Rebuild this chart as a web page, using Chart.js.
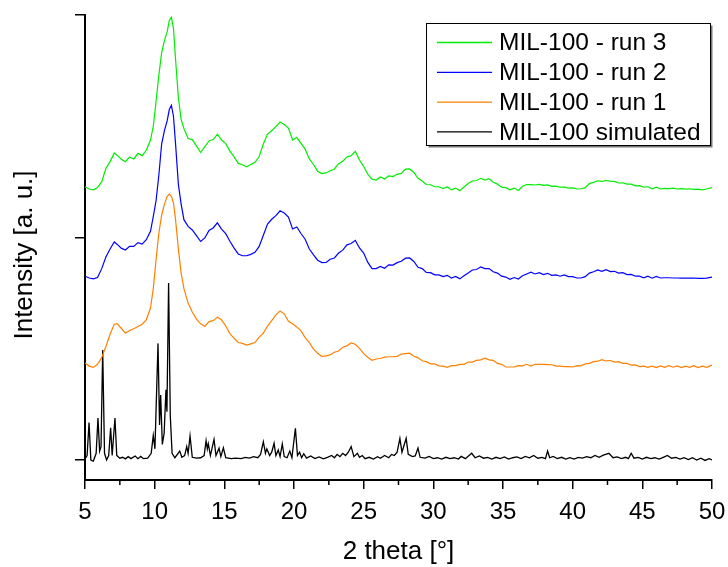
<!DOCTYPE html>
<html>
<head>
<meta charset="utf-8">
<title>MIL-100 XRD</title>
<script src="https://cdn.jsdelivr.net/npm/chart.js@4.4.1/dist/chart.umd.min.js"></script>
<style>
  html, body { margin: 0; padding: 0; background: #fff; }
  canvas { display: block; }
</style>
</head>
<body>
<canvas id="xrdChart" width="728" height="567"></canvas>
<script>
// ===============================
// Data
// ===============================
const seriesLabels = ["MIL-100 - run 3", "MIL-100 - run 2", "MIL-100 - run 1", "MIL-100 simulated"];
const seriesColors = ["#00ee00", "#0000ff", "#ff8000", "#000000"];

const xTicks = [5, 10, 15, 20, 25, 30, 35, 40, 45, 50];
const xMinorTicks = [7.5, 12.5, 17.5, 22.5, 27.5, 32.5, 37.5, 42.5, 47.5];
const yTicks = [0, 1, 2];

// shared 2-theta grid of the three measured runs
const runX = [
    5.0, 5.3, 5.6, 5.9, 6.2, 6.5, 6.8, 7.1, 7.3, 7.6,
    7.9, 8.2, 8.5, 8.8, 9.1, 9.4, 9.7, 9.9, 10.1, 10.3,
    10.5, 10.7, 10.9, 11.05, 11.2, 11.35, 11.5, 11.7, 11.9, 12.1,
    12.4, 12.7, 13.0, 13.3, 13.6, 13.9, 14.2, 14.5, 14.8, 15.1,
    15.4, 15.7, 16.0, 16.3, 16.6, 16.9, 17.2, 17.5, 17.8, 18.1,
    18.4, 18.7, 19.0, 19.3, 19.6, 19.9, 20.2, 20.5, 20.8, 21.1,
    21.4, 21.7, 22.0, 22.3, 22.6, 22.9, 23.2, 23.5, 23.8, 24.1,
    24.4, 24.7, 25.0, 25.3, 25.6, 25.9, 26.2, 26.5, 26.8, 27.1,
    27.4, 27.7, 28.0, 28.3, 28.6, 28.9, 29.2, 29.5, 29.8, 30.1,
    30.4, 30.7, 31.0, 31.3, 31.6, 31.9, 32.2, 32.5, 32.8, 33.1,
    33.4, 33.7, 34.0, 34.3, 34.6, 34.9, 35.2, 35.5, 35.8, 36.1,
    36.4, 36.7, 37.0, 37.3, 37.6, 37.9, 38.2, 38.5, 38.8, 39.1,
    39.4, 39.7, 40.0, 40.3, 40.6, 40.9, 41.2, 41.5, 41.8, 42.1,
    42.4, 42.7, 43.0, 43.3, 43.6, 43.9, 44.2, 44.5, 44.8, 45.1,
    45.4, 45.7, 46.0, 46.3, 46.6, 46.9, 47.2, 47.5, 47.8, 48.1,
    48.4, 48.7, 49.0, 49.3, 49.6, 50.0
];

const run3 = [
    1.228, 1.218, 1.214, 1.224, 1.251, 1.310, 1.341, 1.380, 1.370, 1.352,
    1.341, 1.362, 1.353, 1.378, 1.368, 1.392, 1.438, 1.500, 1.610, 1.730,
    1.830, 1.885, 1.925, 1.975, 1.990, 1.940, 1.800, 1.630, 1.530, 1.490,
    1.445, 1.440, 1.412, 1.382, 1.408, 1.434, 1.440, 1.464, 1.438, 1.422,
    1.388, 1.362, 1.333, 1.327, 1.318, 1.328, 1.338, 1.364, 1.420, 1.465,
    1.480, 1.498, 1.519, 1.508, 1.492, 1.438, 1.450, 1.423, 1.397, 1.353,
    1.328, 1.298, 1.287, 1.290, 1.300, 1.308, 1.332, 1.343, 1.362, 1.368,
    1.387, 1.348, 1.320, 1.283, 1.262, 1.258, 1.272, 1.263, 1.277, 1.274,
    1.284, 1.288, 1.307, 1.308, 1.292, 1.266, 1.254, 1.238, 1.237, 1.228,
    1.228, 1.220, 1.227, 1.214, 1.222, 1.210, 1.227, 1.243, 1.254, 1.256,
    1.266, 1.258, 1.264, 1.248, 1.240, 1.226, 1.224, 1.214, 1.222, 1.211,
    1.230, 1.238, 1.238, 1.236, 1.239, 1.234, 1.236, 1.230, 1.231, 1.226,
    1.226, 1.222, 1.223, 1.218, 1.219, 1.224, 1.242, 1.248, 1.255, 1.252,
    1.256, 1.253, 1.252, 1.245, 1.246, 1.240, 1.240, 1.232, 1.233, 1.226,
    1.228, 1.219, 1.226, 1.218, 1.221, 1.220, 1.222, 1.218, 1.220, 1.217,
    1.219, 1.216, 1.217, 1.214, 1.218, 1.224
];

const run2 = [
    0.826, 0.818, 0.814, 0.820, 0.860, 0.912, 0.948, 0.980, 0.970, 0.952,
    0.944, 0.960, 0.960, 0.977, 0.970, 0.990, 1.028, 1.094, 1.165, 1.280,
    1.420, 1.480, 1.525, 1.575, 1.594, 1.545, 1.420, 1.240, 1.150, 1.080,
    1.050, 1.034, 1.008, 0.982, 0.998, 1.032, 1.043, 1.066, 1.038, 1.017,
    0.983, 0.952, 0.926, 0.918, 0.918, 0.924, 0.933, 0.960, 1.010, 1.060,
    1.082, 1.098, 1.120, 1.110, 1.092, 1.038, 1.047, 1.018, 0.992, 0.948,
    0.922, 0.898, 0.887, 0.888, 0.902, 0.908, 0.930, 0.943, 0.967, 0.973,
    0.987, 0.953, 0.930, 0.888, 0.860, 0.860, 0.870, 0.862, 0.877, 0.876,
    0.887, 0.893, 0.907, 0.908, 0.892, 0.866, 0.860, 0.843, 0.842, 0.832,
    0.832, 0.824, 0.830, 0.818, 0.825, 0.814, 0.828, 0.840, 0.854, 0.856,
    0.868, 0.860, 0.860, 0.846, 0.840, 0.826, 0.822, 0.812, 0.820, 0.813,
    0.828, 0.836, 0.844, 0.836, 0.842, 0.833, 0.839, 0.830, 0.832, 0.826,
    0.832, 0.824, 0.824, 0.818, 0.818, 0.824, 0.840, 0.846, 0.854, 0.848,
    0.855, 0.847, 0.848, 0.840, 0.842, 0.833, 0.834, 0.826, 0.826, 0.819,
    0.826, 0.817, 0.825, 0.818, 0.819, 0.819, 0.818, 0.818, 0.817, 0.817,
    0.817, 0.818, 0.816, 0.816, 0.817, 0.822
];

const run1 = [
    0.436, 0.422, 0.416, 0.430, 0.460, 0.510, 0.565, 0.610, 0.613, 0.592,
    0.570, 0.582, 0.590, 0.600, 0.610, 0.630, 0.683, 0.770, 0.900, 1.020,
    1.100, 1.150, 1.185, 1.195, 1.185, 1.155, 1.080, 0.950, 0.840, 0.770,
    0.705, 0.665, 0.633, 0.612, 0.600, 0.622, 0.626, 0.642, 0.630, 0.602,
    0.568, 0.547, 0.528, 0.524, 0.516, 0.522, 0.528, 0.552, 0.570, 0.602,
    0.626, 0.652, 0.670, 0.657, 0.623, 0.612, 0.598, 0.580, 0.550, 0.527,
    0.498, 0.480, 0.466, 0.468, 0.472, 0.484, 0.490, 0.507, 0.513, 0.526,
    0.520, 0.502, 0.478, 0.462, 0.448, 0.454, 0.456, 0.462, 0.464, 0.464,
    0.466, 0.476, 0.478, 0.480, 0.466, 0.459, 0.446, 0.442, 0.432, 0.432,
    0.423, 0.422, 0.416, 0.424, 0.424, 0.430, 0.430, 0.440, 0.440, 0.448,
    0.450, 0.458, 0.450, 0.448, 0.434, 0.430, 0.418, 0.418, 0.418, 0.424,
    0.423, 0.430, 0.422, 0.430, 0.430, 0.430, 0.429, 0.428, 0.422, 0.422,
    0.420, 0.420, 0.418, 0.424, 0.423, 0.432, 0.434, 0.442, 0.444, 0.451,
    0.445, 0.447, 0.440, 0.442, 0.434, 0.434, 0.426, 0.427, 0.420, 0.422,
    0.416, 0.422, 0.415, 0.423, 0.416, 0.424, 0.417, 0.423, 0.415, 0.422,
    0.416, 0.424, 0.415, 0.422, 0.416, 0.427
];

// simulated pattern: sharp reflections
const simX = [
    5.0, 5.15, 5.29, 5.42, 5.6, 5.8, 5.93, 6.05, 6.15, 6.27,
    6.4, 6.55, 6.7, 6.84, 6.95, 7.15, 7.28, 7.5, 7.7, 7.9,
    8.1, 8.3, 8.6, 8.8, 9.0, 9.2, 9.5, 9.75, 9.9, 10.02,
    10.24, 10.35, 10.43, 10.55, 10.68, 10.81, 10.88, 11.0, 11.12, 11.25,
    11.45, 11.8, 11.95, 12.15, 12.3, 12.4, 12.54, 12.7, 13.0, 13.3,
    13.55, 13.69, 13.78, 13.85, 14.0, 14.26, 14.4, 14.62, 14.75, 14.93,
    15.1, 15.5, 15.8, 16.2, 16.5, 16.8, 17.1, 17.4, 17.6, 17.8,
    17.95, 18.05, 18.25, 18.4, 18.57, 18.7, 18.87, 19.0, 19.16, 19.3,
    19.5, 19.7, 19.85, 20.1, 20.25, 20.4, 20.55, 20.7, 20.9, 21.2,
    21.5, 21.8, 22.1, 22.4, 22.7, 22.9, 23.1, 23.3, 23.5, 23.7,
    23.9, 24.1, 24.3, 24.55, 24.7, 24.9, 25.1, 25.4, 25.7, 26.0,
    26.2, 26.5, 26.8, 27.0, 27.2, 27.4, 27.6, 27.75, 28.05, 28.2,
    28.5, 28.7, 28.9, 29.05, 29.4, 29.7, 30.0, 30.3, 30.6, 30.9,
    31.2, 31.5, 31.8, 32.0, 32.3, 32.75, 33.0, 33.3, 33.6, 33.9,
    34.2, 34.5, 34.8, 35.1, 35.4, 35.7, 36.0, 36.3, 36.6, 36.9,
    37.2, 37.5, 37.8, 38.05, 38.2, 38.35, 38.6, 38.9, 39.2, 39.5,
    39.8, 40.1, 40.4, 40.7, 41.0, 41.3, 41.6, 41.9, 42.2, 42.6,
    42.9, 43.2, 43.5, 43.8, 44.0, 44.2, 44.4, 44.7, 45.0, 45.3,
    45.6, 45.9, 46.2, 46.5, 46.8, 47.1, 47.4, 47.7, 48.0, 48.3,
    48.6, 48.9, 49.2, 49.5, 49.8, 50.0
];

const simY = [
    0.005, 0.020, 0.168, 0.000, -0.005, 0.030, 0.189, 0.040, 0.060, 0.494,
    0.030, 0.000, 0.020, 0.145, 0.020, 0.189, 0.020, 0.008, 0.012, 0.005,
    0.015, 0.006, 0.018, 0.006, 0.016, 0.006, 0.008, 0.030, 0.110, 0.050,
    0.524, 0.157, 0.292, 0.070, 0.120, 0.315, 0.217, 0.795, 0.200, 0.030,
    0.010, 0.040, 0.012, 0.020, 0.060, 0.030, 0.108, 0.012, 0.008, 0.010,
    0.020, 0.087, 0.050, 0.073, 0.020, 0.093, 0.020, 0.053, 0.015, 0.055,
    0.010, 0.006, 0.008, 0.006, 0.012, 0.008, 0.015, 0.010, 0.025, 0.082,
    0.030, 0.050, 0.020, 0.035, 0.075, 0.020, 0.045, 0.015, 0.072, 0.015,
    0.010, 0.040, 0.010, 0.142, 0.020, 0.035, 0.010, 0.028, 0.008, 0.018,
    0.006, 0.014, 0.005, 0.012, 0.020, 0.010, 0.025, 0.015, 0.030, 0.020,
    0.035, 0.060, 0.015, 0.030, 0.012, 0.020, 0.006, 0.012, 0.004, 0.015,
    0.008, 0.020, 0.010, 0.025, 0.020, 0.035, 0.097, 0.035, 0.097, 0.025,
    0.015, 0.018, 0.053, 0.012, 0.008, 0.016, 0.006, 0.010, 0.004, 0.012,
    0.006, 0.010, 0.004, 0.016, 0.006, 0.030, 0.010, 0.018, 0.008, 0.012,
    0.004, 0.012, 0.006, 0.014, 0.004, 0.010, 0.014, 0.006, 0.016, 0.010,
    0.020, 0.008, 0.012, 0.006, 0.040, 0.010, 0.016, 0.006, 0.012, 0.004,
    0.010, 0.004, 0.012, 0.008, 0.015, 0.010, 0.020, 0.012, 0.022, 0.030,
    0.010, 0.014, 0.006, 0.012, 0.006, 0.030, 0.008, 0.012, 0.004, 0.012,
    0.006, 0.010, 0.004, 0.012, 0.020, 0.008, 0.012, 0.004, 0.010, 0.002,
    0.010, 0.000, 0.008, -0.002, 0.006, 0.000
];

const FONT = "'Liberation Sans', Arial, sans-serif";
const yTitle = "Intensity [a. u.]";

function toPoints(xs, ys) {
    return xs.map((x, i) => ({ x: x, y: ys[i] }));
}

// ===============================
// Minor ticks on the 2 theta axis
// ===============================
const minorTicks = {
    id: "minorTicks",
    afterDraw(chart) {
        const ctx = chart.ctx;
        const xs = chart.scales.x;
        ctx.save();
        ctx.strokeStyle = "#000";
        ctx.lineWidth = 1.5;
        xMinorTicks.forEach(v => {
            const px = xs.getPixelForValue(v);
            ctx.beginPath();
            ctx.moveTo(px, xs.top);
            ctx.lineTo(px, xs.top + 5);
            ctx.stroke();
        });
        ctx.restore();
    }
};

// ===============================
// Rotated y title (sits a bit below the axis centre)
// ===============================
const yTitlePlugin = {
    id: "yTitlePlugin",
    afterDraw(chart) {
        const ctx = chart.ctx;
        ctx.save();
        ctx.translate(25, 255);
        ctx.rotate(-Math.PI / 2);
        ctx.font = "26px " + FONT;
        ctx.fillStyle = "#000";
        ctx.textAlign = "center";
        ctx.textBaseline = "middle";
        ctx.fillText(yTitle, 0, 0);
        ctx.restore();
    }
};

// ===============================
// Boxed legend in the top right
// ===============================
const legendBox = {
    id: "legendBox",
    afterDraw(chart) {
        const ctx = chart.ctx;
        const left = 426.5, top = 23.5, w = 284, h = 122;
        ctx.save();
        ctx.fillStyle = "#777";
        ctx.fillRect(left + 2, top + 2, w, h);
        ctx.fillStyle = "#fff";
        ctx.fillRect(left, top, w, h);
        ctx.strokeStyle = "#000";
        ctx.lineWidth = 1;
        ctx.strokeRect(left, top, w, h);

        ctx.font = "24.5px " + FONT;
        ctx.textBaseline = "middle";
        ctx.textAlign = "left";
        chart.data.datasets.forEach((ds, i) => {
            const y = 42.5 + i * 29.8;
            ctx.strokeStyle = ds.borderColor;
            ctx.lineWidth = 1.3;
            ctx.beginPath();
            ctx.moveTo(437, y);
            ctx.lineTo(492, y);
            ctx.stroke();
            ctx.fillStyle = "#000";
            ctx.fillText(ds.label, 499, y + 1);
        });
        ctx.restore();
    }
};

// ===============================
// Build chart
// ===============================
const datasets = [
    { label: seriesLabels[0], data: toPoints(runX, run3), borderColor: seriesColors[0], borderWidth: 1.2 },
    { label: seriesLabels[1], data: toPoints(runX, run2), borderColor: seriesColors[1], borderWidth: 1.2 },
    { label: seriesLabels[2], data: toPoints(runX, run1), borderColor: seriesColors[2], borderWidth: 1.2 },
    { label: seriesLabels[3], data: toPoints(simX, simY), borderColor: seriesColors[3], borderWidth: 1.3 }
];

new Chart(document.getElementById("xrdChart"), {
    type: "line",
    data: { datasets: datasets },
    options: {
        responsive: false,
        animation: false,
        layout: { padding: { top: 15, right: 16, left: 0, bottom: 0 } },
        elements: {
            point: { radius: 0 },
            line: { tension: 0, fill: false }
        },
        plugins: {
            legend: { display: false },
            tooltip: { enabled: false }
        },
        scales: {
            x: {
                type: "linear",
                min: 5,
                max: 50,
                afterBuildTicks: s => { s.ticks = xTicks.map(v => ({ value: v })); },
                ticks: {
                    color: "#000",
                    font: { size: 24, family: FONT },
                    padding: 9,
                    maxRotation: 0,
                    autoSkip: false
                },
                grid: {
                    display: true,
                    drawOnChartArea: false,
                    drawTicks: true,
                    tickLength: 9,
                    color: "#000",
                    lineWidth: 1.5
                },
                border: { display: true, color: "#000", width: 2 },
                title: {
                    display: true,
                    text: "2 theta [°]",
                    color: "#000",
                    font: { size: 26, family: FONT },
                    padding: { top: 0, bottom: 0 }
                },
                afterFit: s => {
                    s.height = 87;
                    s.paddingLeft = 0;
                    s.paddingRight = 0;
                }
            },
            y: {
                type: "linear",
                min: -0.09,
                max: 2.0,
                afterBuildTicks: s => { s.ticks = yTicks.map(v => ({ value: v })); },
                ticks: { display: false },
                grid: {
                    display: true,
                    drawOnChartArea: false,
                    drawTicks: true,
                    tickLength: 10,
                    color: "#000",
                    lineWidth: 1.5
                },
                border: { display: true, color: "#000", width: 2 },
                title: { display: false },
                afterFit: s => { s.width = 85; }
            }
        }
    },
    plugins: [minorTicks, yTitlePlugin, legendBox]
});
</script>
</body>
</html>
